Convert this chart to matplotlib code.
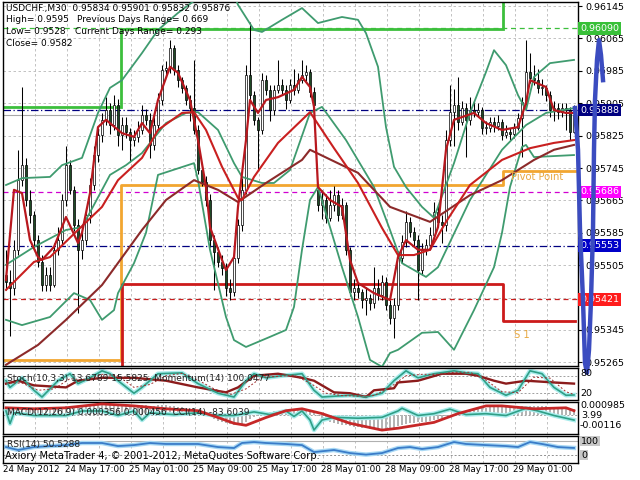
import numpy as np
import matplotlib
matplotlib.use("Agg")
from matplotlib import pyplot as plt
from matplotlib.transforms import blended_transform_factory as blend

plt.rcParams['font.family'] = ['DejaVu Sans']

# ---------------- data ----------------

# USDCHF M30 candles, bar 0 .. 142 (left to right)
first_open = 0.95481
gap_opens = {78: 0.95690}
closes = [
    0.95463, 0.95449, 0.95543, 0.95715, 0.95752, 0.95666, 0.95629, 0.95567, 0.95513, 0.95456,
    0.95481, 0.95456, 0.95543, 0.95567, 0.95666, 0.95752, 0.95691, 0.95604, 0.95543, 0.95567,
    0.95629, 0.95703, 0.95777, 0.95827, 0.95864, 0.95888, 0.95851, 0.95901, 0.95827, 0.95851,
    0.95834, 0.95814, 0.95822, 0.95839, 0.95876, 0.95864, 0.95802, 0.95851, 0.95913, 0.95987,
    0.95992, 0.96041, 0.95987, 0.95962, 0.95943, 0.95913, 0.95893, 0.95839, 0.95740, 0.95710,
    0.95666, 0.95567, 0.95538, 0.95513, 0.95498, 0.95449, 0.95439, 0.95523, 0.95604, 0.95691,
    0.95975, 0.95925, 0.95864, 0.95839, 0.95962, 0.95938, 0.95888, 0.95938, 0.95950, 0.95938,
    0.95913, 0.95950, 0.95938, 0.95962, 0.95975, 0.95982, 0.95933, 0.95901, 0.95654, 0.95666,
    0.95622, 0.95654, 0.95678, 0.95629, 0.95654, 0.95543, 0.95439, 0.95449, 0.95439, 0.95419,
    0.95424, 0.95412, 0.95449, 0.95431, 0.95463, 0.95407, 0.95375, 0.95407, 0.95523, 0.95562,
    0.95612, 0.95587, 0.95567, 0.95493, 0.95543, 0.95555, 0.95580, 0.95636, 0.95612, 0.95604,
    0.95814, 0.95883, 0.95901, 0.95859, 0.95893, 0.95864, 0.95888, 0.95883, 0.95888, 0.95844,
    0.95844, 0.95859, 0.95849, 0.95859, 0.95827, 0.95834, 0.95829, 0.95844, 0.95869, 0.95908,
    0.95982, 0.95967, 0.95962, 0.95943, 0.95943, 0.95925, 0.95888, 0.95893, 0.95883, 0.95893,
    0.95888, 0.95834, 0.95876]
highs = [
    0.95543, 0.95493, 0.95567, 0.95790, 0.95945, 0.95770, 0.95690, 0.95640, 0.95580, 0.95530,
    0.95500, 0.95500, 0.95560, 0.95600, 0.95680, 0.95800, 0.95765, 0.95700, 0.95620, 0.95590,
    0.95640, 0.95720, 0.95800, 0.95845, 0.95880, 0.95920, 0.95905, 0.95925, 0.95915, 0.95870,
    0.95870, 0.95845, 0.95840, 0.95860, 0.95900, 0.95890, 0.95880, 0.95870, 0.95930, 0.96000,
    0.96010, 0.96061, 0.96050, 0.96000, 0.95970, 0.95950, 0.95925, 0.96012, 0.95850, 0.95750,
    0.95725, 0.95680, 0.95580, 0.95550, 0.95530, 0.95510, 0.95470, 0.95540, 0.95620, 0.95720,
    0.96000, 0.96106, 0.95935, 0.95870, 0.95980, 0.95975, 0.95950, 0.95950, 0.96012, 0.95965,
    0.95950, 0.95965, 0.95990, 0.95980, 0.96012, 0.96000, 0.95990, 0.95945, 0.95700, 0.95691,
    0.95680, 0.95690, 0.95700, 0.95690, 0.95670, 0.95660, 0.95550, 0.95470, 0.95460, 0.95445,
    0.95450, 0.95435, 0.95500, 0.95470, 0.95480, 0.95475, 0.95420, 0.95425, 0.95540, 0.95580,
    0.95640, 0.95625, 0.95600, 0.95580, 0.95560, 0.95570, 0.95600, 0.95660, 0.95650, 0.95630,
    0.95840, 0.95950, 0.95940, 0.95970, 0.95910, 0.95905, 0.95920, 0.95910, 0.95905, 0.95895,
    0.95860, 0.95870, 0.95870, 0.95875, 0.95865, 0.95850, 0.95845, 0.95855, 0.95880, 0.95920,
    0.96061, 0.96030, 0.96000, 0.95990, 0.95965, 0.95950, 0.95935, 0.95910, 0.95905, 0.95905,
    0.95905, 0.95895, 0.95901]
lows = [
    0.95444, 0.95330, 0.95431, 0.95530, 0.95700, 0.95650, 0.95610, 0.95550, 0.95500, 0.95440,
    0.95440, 0.95440, 0.95450, 0.95530, 0.95555, 0.95650, 0.95680, 0.95590, 0.95387, 0.95520,
    0.95555, 0.95610, 0.95690, 0.95760, 0.95810, 0.95850, 0.95830, 0.95840, 0.95800, 0.95790,
    0.95820, 0.95760, 0.95800, 0.95810, 0.95830, 0.95850, 0.95770, 0.95790, 0.95840, 0.95900,
    0.95970, 0.95980, 0.95975, 0.95945, 0.95930, 0.95900, 0.95860, 0.95830, 0.95730, 0.95700,
    0.95650, 0.95550, 0.95444, 0.95500, 0.95480, 0.95430, 0.95419, 0.95430, 0.95510, 0.95590,
    0.95680, 0.95910, 0.95850, 0.95740, 0.95830, 0.95925, 0.95860, 0.95875, 0.95930, 0.95925,
    0.95890, 0.95905, 0.95925, 0.95930, 0.95955, 0.95960, 0.95920, 0.95880, 0.95640, 0.95620,
    0.95610, 0.95615, 0.95640, 0.95615, 0.95620, 0.95530, 0.95430, 0.95420, 0.95425, 0.95400,
    0.95382, 0.95395, 0.95400, 0.95420, 0.95420, 0.95395, 0.95360, 0.95325, 0.95395, 0.95510,
    0.95550, 0.95575, 0.95550, 0.95420, 0.95480, 0.95530, 0.95545, 0.95570, 0.95600, 0.95560,
    0.95590, 0.95800, 0.95800, 0.95840, 0.95850, 0.95772, 0.95850, 0.95870, 0.95870, 0.95830,
    0.95830, 0.95835, 0.95835, 0.95840, 0.95815, 0.95820, 0.95815, 0.95820, 0.95840, 0.95772,
    0.95900, 0.95955, 0.95950, 0.95930, 0.95925, 0.95910, 0.95870, 0.95860, 0.95865, 0.95870,
    0.95840, 0.95815, 0.95832]

# moving averages (bar, price)
fast_ma_bars = [0, 2, 4, 6, 8, 9, 12, 15, 18, 19, 21, 23, 25, 29, 32, 34, 36, 38, 41, 43, 46, 48,
                50, 51, 54, 55, 57, 58, 60, 61, 63, 65, 68, 72, 74, 76, 77, 78, 81, 84, 86, 88,
                92, 96, 98, 100, 103, 106, 108, 110, 112, 117, 120, 124, 128, 130, 131, 135,
                137, 140, 142]
fast_ma = [0.95469, 0.95691, 0.95683, 0.95567, 0.95525, 0.95518, 0.95550, 0.95624, 0.95560,
           0.95585, 0.95683, 0.95846, 0.95864, 0.95831, 0.95822, 0.95856, 0.95831, 0.95913,
           0.95995, 0.95980, 0.95913, 0.95814, 0.95698, 0.95599, 0.95518, 0.95493, 0.95525,
           0.95649, 0.95814, 0.95913, 0.95881, 0.95913, 0.95920, 0.95938, 0.95970, 0.95945,
           0.95896, 0.95698, 0.95666, 0.95649, 0.95518, 0.95461, 0.95436, 0.95419, 0.95525,
           0.95567, 0.95543, 0.95543, 0.95599, 0.95790, 0.95864, 0.95881, 0.95856, 0.95839,
           0.95846, 0.95906, 0.95962, 0.95945, 0.95888, 0.95881, 0.95881]
mid_ma_bars = [0, 7, 11, 18, 24, 28, 34, 38, 44, 47, 50, 54, 58, 59, 62, 68, 76, 82, 88, 94, 98,
               102, 106, 110, 116, 124, 131, 137, 142]
mid_ma = [0.95444, 0.95513, 0.95525, 0.95592, 0.95649, 0.95715, 0.95770, 0.95839, 0.95881,
          0.95883, 0.95839, 0.95748, 0.95671, 0.95666, 0.95723, 0.95807, 0.95883, 0.95794,
          0.95708, 0.95597, 0.95530, 0.95530, 0.95543, 0.95612, 0.95703, 0.95765, 0.95794,
          0.95807, 0.95814]
slow_ma_bars = [0, 8, 15, 24, 34, 40, 47, 53, 58, 65, 74, 76, 88, 96, 106, 116, 124, 132, 137, 142]
slow_ma = [0.95259, 0.95308, 0.95370, 0.95456, 0.95592, 0.95666, 0.95715, 0.95691, 0.95661,
           0.95708, 0.95765, 0.95790, 0.95733, 0.95649, 0.95612, 0.95678, 0.95715, 0.95765,
           0.95790, 0.95802]

# bollinger bands (bar, price)
bb_up_bars = [0, 4, 11, 14, 19, 23, 26, 29, 34, 38, 43, 48, 52, 56, 58, 62, 64, 69, 74, 78, 84,
              88, 90, 93, 95, 97, 100, 104, 107, 108, 112, 116, 120, 122, 125, 128, 130, 132,
              136, 142]
bb_up = [0.95703, 0.95720, 0.95723, 0.95752, 0.95770, 0.95881, 0.95943, 0.95962, 0.96029,
         0.96086, 0.96128, 0.96165, 0.96209, 0.96197, 0.96148, 0.96086, 0.96081, 0.96111,
         0.96140, 0.96103, 0.96118, 0.96111, 0.96078, 0.95995, 0.95846, 0.95748, 0.95698,
         0.95649, 0.95622, 0.95649, 0.95757, 0.95881, 0.95982, 0.96036, 0.95999, 0.95925,
         0.95888, 0.95970, 0.96004, 0.96012]
bb_mid_bars = [0, 7, 15, 19, 22, 26, 30, 34, 40, 45, 48, 53, 57, 59, 64, 67, 71, 76, 79, 85, 92,
               96, 99, 105, 108, 116, 124, 130, 135, 142]
bb_mid = [0.95506, 0.95550, 0.95592, 0.95599, 0.95654, 0.95728, 0.95752, 0.95782, 0.95856,
          0.95881, 0.95883, 0.95839, 0.95757, 0.95723, 0.95708, 0.95708, 0.95740, 0.95881,
          0.95896, 0.95814, 0.95698, 0.95592, 0.95510, 0.95476, 0.95500, 0.95666, 0.95790,
          0.95851, 0.95881, 0.95893]
bb_low_bars = [0, 4, 11, 17, 21, 24, 27, 28, 32, 35, 38, 47, 48, 51, 55, 57, 60, 66, 70, 72, 74,
               76, 78, 84, 88, 91, 94, 96, 98, 104, 108, 112, 117, 122, 124, 126, 129, 130, 132,
               142]
bb_low = [0.95370, 0.95357, 0.95377, 0.95436, 0.95419, 0.95370, 0.95394, 0.95436, 0.95510,
          0.95585, 0.95728, 0.95757, 0.95715, 0.95543, 0.95377, 0.95320, 0.95303, 0.95328,
          0.95345, 0.95402, 0.95543, 0.95666, 0.95698, 0.95500, 0.95377, 0.95271, 0.95254,
          0.95288, 0.95296, 0.95338, 0.95340, 0.95296, 0.95394, 0.95500, 0.95585, 0.95698,
          0.95797, 0.95802, 0.95772, 0.95777]

# daily pivot steps (bar, price)
r_step_bars = [-0.75, 28.75, 28.75, 124.25, 124.25]
r_step = [0.95896, 0.95896, 0.96088, 0.96088, 0.96200]
pivot_bars = [-0.75, 28.75, 28.75, 124.25, 124.25, 142.25]
pivot = [0.95271, 0.95271, 0.95703, 0.95703, 0.95738, 0.95738]
s1_bars = [28.9, 28.9, 124.25, 124.25, 142.25]
s1 = [0.95200, 0.95459, 0.95459, 0.95367, 0.95367]

# level lines: price, colour, style
levels = [(0.96090, '#3cbf3c', (0, (4, 3))), (0.95888, '#000080', (0, (6, 2, 1, 2))),
          (0.95686, '#d000d0', (0, (4, 3))), (0.95553, '#000080', (0, (6, 2, 1, 2))),
          (0.95421, '#c81e1e', (0, (4, 3)))]
level_boxes = [(0.96090, '0.96090', '#38c038'), (0.95888, '0.95888', '#000080'),
               (0.95686, '0.95686', '#ff00ff'), (0.95553, '0.95553', '#0000c8'),
               (0.95421, '0.95421', '#ff1c1c')]
bid = 0.95876
price_ticks = [0.96145, 0.96065, 0.95985, 0.95905, 0.95825, 0.95745, 0.95665, 0.95585,
               0.95505, 0.95425, 0.95345, 0.95265]
hidden_tick = 0.95425  # covered by the red level box

# forecast line drawn past the last bar
proj_bars = [142.25, 143, 143.5, 144.25, 144.75, 145.25, 145.75, 146.25, 146.75, 147, 147.25,
             147.75, 148.25, 148.75, 149.25]
proj = [0.95893, 0.95790, 0.95592, 0.95419, 0.95263, 0.95239, 0.95296, 0.95419, 0.95592,
        0.95790, 0.95913, 0.96012, 0.96061, 0.96024, 0.95962]

# stochastic / momentum window
stoch_bars = [0, 1, 4, 7, 9, 13, 16, 18, 21, 24, 26, 28, 32, 34, 38, 44, 48, 53, 57, 60, 62, 65,
              69, 74, 77, 79, 86, 90, 94, 97, 100, 103, 107, 112, 115, 118, 121, 125, 128,
              131, 134, 137, 140, 142]
stoch = [63, 40, 73, 30, 7, 63, 87, 53, 73, 97, 87, 63, 20, 40, 87, 90, 53, 20, 7, 63, 87, 73,
         80, 87, 30, 7, 13, 7, 20, 63, 97, 73, 87, 97, 90, 87, 40, 13, 30, 97, 87, 40, 13, 14]
signal_bars = list(range(0, 144, 4))[:36] + [142]
signal = [55, 55, 30, 35, 70, 65, 85, 80, 40, 50, 80, 88, 65, 35, 15, 35, 75, 78, 82, 55, 20,
          12, 10, 12, 40, 80, 85, 85, 92, 92, 65, 25, 22, 75, 72, 25, 16]
mom_bars = [0, 3, 7, 15, 18, 24, 32, 40, 48, 55, 58, 62, 68, 74, 77, 82, 86, 90, 92, 97, 98,
            103, 109, 115, 118, 122, 125, 130, 137, 142]
mom = [53, 63, 47, 40, 63, 73, 73, 63, 40, 23, 40, 80, 87, 73, 63, 23, 20, 7, 30, 37, 57, 63,
       87, 87, 80, 63, 53, 63, 57, 53]

# MACD / CCI window
macd_hist = [
    .0004, .0005, .0005, .0006, .0006, .0005, .0006, .0006, .0007, .0007,
    .0007, .0006, .0007, .0008, .0008, .0009, .0009, .0008, .0008, .0009,
    .0009, .0010, .0010, .0011, .0011, .0011, .0012, .0011, .0011, .0012,
    .0011, .0011, .0010, .0010, .0011, .0011, .0010, .0010, .0011, .0011,
    .0011, .0010, .0009, .0008, .0008, .0007, .0006, .0005, .0003, .0001,
    -.0001, -.0003, -.0005, -.0007, -.0008, -.0009, -.0010, -.0011, -.0011, -.0010,
    -.0008, -.0005, -.0003, -.0001, .0001, .0002, .0003, .0004, .0004, .0005,
    .0005, .0005, .0005, .0006, .0006, .0005, .0004, .0003, -.0002, -.0005,
    -.0007, -.0008, -.0009, -.0010, -.0011, -.0012, -.0013, -.0014, -.0014, -.0015,
    -.0015, -.0016, -.0016, -.0016, -.0016, -.0016, -.0016, -.0015, -.0013, -.0011,
    -.0010, -.0009, -.0009, -.0008, -.0008, -.0008, -.0007, -.0006, -.0005, -.0004,
    -.0002, .0000, .0001, .0002, .0003, .0004, .0005, .0006, .0006, .0007,
    .0007, .0008, .0008, .0009, .0009, .0009, .0010, .0010, .0010, .0009,
    .0009, .0010, .0010, .0009, .0009, .0009, .0008, .0008, .0008, .0007,
    .0007, .0007, .0006]
macd_sig_bars = [0, 7, 15, 24, 32, 40, 48, 53, 57, 60, 65, 70, 74, 79, 86, 94, 98, 107, 113,
                 120, 124, 132, 140, 142]
macd_sig = [.00075, .00064, .00075, .00118, .00096, .00064, .00043, -.00032, -.00096, -.00118,
            -.00032, .00043, .00064, .00011, -.00096, -.00171, -.00150, -.00086, .00011,
            .00096, .00096, .00064, .00075, .00043]
cci_bars = [0, 1, 2, 7, 15, 19, 24, 28, 32, 34, 36, 42, 48, 52, 57, 62, 66, 70, 72, 74, 76, 77,
            79, 82, 88, 94, 98, 99, 103, 107, 111, 115, 120, 125, 130, 133, 137, 142]
cci = [.0004, -.0010, .0002, -.0001, -.0001, .0004, .0004, -.0001, .0004, -.0006, .0002, .0000,
       .0002, -.0001, -.0001, .0003, .0000, .0004, -.0002, .0004, -.0006, -.0017, -.0006,
       -.0003, -.0004, -.0003, .0004, .0007, -.0001, .0001, .0006, .0000, .0001, -.0001,
       .0007, .0004, -.0001, -.0006]

# RSI window
rsi_bars = [0, 3, 7, 15, 19, 24, 28, 32, 36, 40, 48, 53, 57, 59, 62, 65, 70, 74, 77, 82, 86, 90,
            94, 98, 101, 104, 108, 112, 115, 120, 125, 128, 131, 134, 138, 142]
rsi = [57, 36, 57, 71, 86, 86, 64, 71, 86, 79, 79, 57, 50, 86, 93, 86, 79, 71, 21, 36, 14, 3,
       14, 50, 57, 43, 57, 93, 79, 71, 64, 57, 93, 79, 57, 50.5]

time_labels = ['24 May 2012', '24 May 17:00', '25 May 01:00', '25 May 09:00', '25 May 17:00',
               '28 May 01:00', '28 May 09:00', '28 May 17:00', '29 May 01:00']

# ---------------- figure ----------------

fig = plt.figure(figsize=(6.4, 4.8), dpi=100)

def px_box(x0, y0, x1, y1):
    return [x0 / 640, 1 - y1 / 480, (x1 - x0) / 640, (y1 - y0) / 480]

ax = fig.add_axes(px_box(3, 2, 578, 366))
ax_st = fig.add_axes(px_box(3, 368, 578, 400))
ax_md = fig.add_axes(px_box(3, 402, 578, 434))
ax_rsi = fig.add_axes(px_box(3, 436, 578, 463))

n = len(closes)
bars = np.arange(n)
for a in (ax, ax_st, ax_md, ax_rsi):
    a.set_xlim(-0.75, 143)
    a.set_xticks([])
    for s in a.spines.values():
        s.set_color('black')
        s.set_linewidth(1)
    for b in np.arange(7.25, 143, 8):
        a.axvline(b, color='#b8b8b8', lw=0.6, ls=(0, (3, 3)), zorder=0)

# main price window
ax.set_ylim(0.95256, 0.96155)
ax.yaxis.tick_right()
ax.set_yticks(price_ticks)
ax.set_yticklabels(['' if p == hidden_tick else '%.5f' % p for p in price_ticks])
ax.tick_params(axis='y', labelsize=6.8, length=3, pad=2, colors='black')
for p in price_ticks:
    ax.axhline(p, color='#b8b8b8', lw=0.6, ls=(0, (3, 3)), zorder=0)

for price, col, ls in levels:
    ax.axhline(price, color=col, lw=0.9, ls=ls, zorder=1)
ax.axhline(bid, color='#a8a8a8', lw=0.8, zorder=1)

ax.plot(r_step_bars, r_step, color='#3cbf3c', lw=2, zorder=2, solid_joinstyle='miter')
ax.plot(pivot_bars, pivot, color='#f2a630', lw=2, zorder=2)
ax.plot(s1_bars, s1, color='#cc1a1a', lw=2, zorder=2)
ax.text(126.3, 0.95716, 'Pivot Point', color='#e8a840', fontsize=7.2, zorder=6)
ax.text(127.0, 0.95332, 'S 1', color='#e8a840', fontsize=7.2, va='center', zorder=6)

opens = [first_open] + closes[:-1]
for b, o in gap_opens.items():
    opens[b] = o
opens = np.array(opens)
closes_a = np.array(closes)
ax.vlines(bars, lows, highs, color='black', lw=0.75, zorder=3)
body_lo = np.minimum(opens, closes_a)
body_h = np.maximum(np.abs(closes_a - opens), 0.00002)
body_col = ['white' if c >= o else '#1f4a26' for o, c in zip(opens, closes_a)]
ax.bar(bars, body_h, bottom=body_lo, width=0.62, color=body_col, edgecolor='black',
       linewidth=0.5, zorder=4)

ax.plot(bb_up_bars, bb_up, color='#3f9b6f', lw=1.3, zorder=5)
ax.plot(bb_mid_bars, bb_mid, color='#3f9b6f', lw=1.3, zorder=5)
ax.plot(bb_low_bars, bb_low, color='#3f9b6f', lw=1.3, zorder=5)
ax.plot(slow_ma_bars, slow_ma, color='#8c2a2a', lw=1.5, zorder=5)
ax.plot(mid_ma_bars, mid_ma, color='#c92020', lw=1.5, zorder=5)
ax.plot(fast_ma_bars, fast_ma, color='#b8181e', lw=1.6, zorder=6)

ax.plot(proj_bars, proj, color='#3b4cc0', lw=3.2, zorder=12, clip_on=False)

tr = blend(ax.transAxes, ax.transData)
for price, txt, bg in level_boxes:
    ax.text(1.004, price, txt, transform=tr, fontsize=6.8, va='center', ha='left',
            color='white', clip_on=False, zorder=9,
            bbox=dict(boxstyle='square,pad=0.2', fc=bg, ec='none'))

# stochastic + momentum
ax_st.set_ylim(-3.3, 106.7)
ax_st.set_yticks([])
for lv in (80, 20):
    ax_st.axhline(lv, color='#a0a0a0', lw=0.7, ls=(0, (2, 2)), zorder=1)
ax_st.plot(mom_bars, mom, color='#8c1c1c', lw=1.7, zorder=3)
ax_st.plot(stoch_bars, stoch, color='#a8ecec', lw=3.2, zorder=2)
ax_st.plot(stoch_bars, stoch, color='#2f9f86', lw=1.2, zorder=4)
ax_st.plot(signal_bars, signal, color='#a03030', lw=0.7, ls=(0, (2, 2)), zorder=4)

# MACD + CCI
ax_md.set_ylim(-0.00214, 0.00139)
ax_md.set_yticks([])
ax_md.axhline(0, color='#a0a0a0', lw=0.7, ls=(0, (2, 2)), zorder=1)
ax_md.bar(bars, macd_hist, width=0.45, color='#b4b4b4', zorder=2)
ax_md.plot(cci_bars, cci, color='#a8ecec', lw=3.2, zorder=3)
ax_md.plot(cci_bars, cci, color='#2f9f86', lw=1.2, zorder=4)
ax_md.plot(macd_sig_bars, macd_sig, color='#c62828', lw=2, zorder=5)

# RSI
ax_rsi.set_ylim(-57, 136)
ax_rsi.set_yticks([])
ax_rsi.axhline(100, color='#b0b0b0', lw=0.8, zorder=1)
ax_rsi.axhline(0, color='#909090', lw=0.7, ls=(0, (2, 2)), zorder=1)
ax_rsi.plot(rsi_bars, rsi, color='#a8d8f4', lw=3.2, zorder=2)
ax_rsi.plot(rsi_bars, rsi, color='#3a7cc8', lw=1.3, zorder=3)

# ---------------- texts ----------------

def ftext(x, y, s, **kw):
    kw.setdefault('fontsize', 6.5)
    kw.setdefault('va', 'center')
    fig.text(x / 640, 1 - y / 480, s, **kw)

ftext(6, 9, 'USDCHF.,M30  0.95834 0.95901 0.95832 0.95876')
ftext(6, 20, 'High= 0.9595')
ftext(77, 20, 'Previous Days Range= 0.669')
ftext(6, 32, 'Low= 0.9528')
ftext(75, 32, 'Current Days Range= 0.293')
ftext(6, 44, 'Close= 0.9582')

ftext(7, 378, 'Stoch(10,3,3) 13.6789 15.5825  Momentum(14) 100.0477', color='#202020')
ftext(7, 412, 'MACD(12,26,9) 0.000356 0.000456  CCI(14) -83.6039', color='#202020')
ftext(7, 444, 'RSI(14) 50.5288', color='#202020')
ftext(5, 456, 'Axiory MetaTrader 4, \u00a9 2001-2012, MetaQuotes Software Corp.', fontsize=7.1)

ftext(580, 374, '80', fontsize=6.8)
ftext(580, 393, '20', fontsize=6.8)
ftext(580, 406, '0.000985', fontsize=6.8)
ftext(581, 416, '3.99', fontsize=6.8)
ftext(580, 426, '-0.00116', fontsize=6.8)
ftext(581, 441, '100', fontsize=6.8, bbox=dict(boxstyle='square,pad=0.1', fc='#c8c8c8', ec='none'))
ftext(581, 455, '0', fontsize=6.8, bbox=dict(boxstyle='square,pad=0.1', fc='#c8c8c8', ec='none'))

for k, lab in enumerate(time_labels):
    ftext(3 + 64 * k - (0 if k == 0 else 2), 470, lab, fontsize=6.3)

fig.savefig('out.png', dpi=100)
